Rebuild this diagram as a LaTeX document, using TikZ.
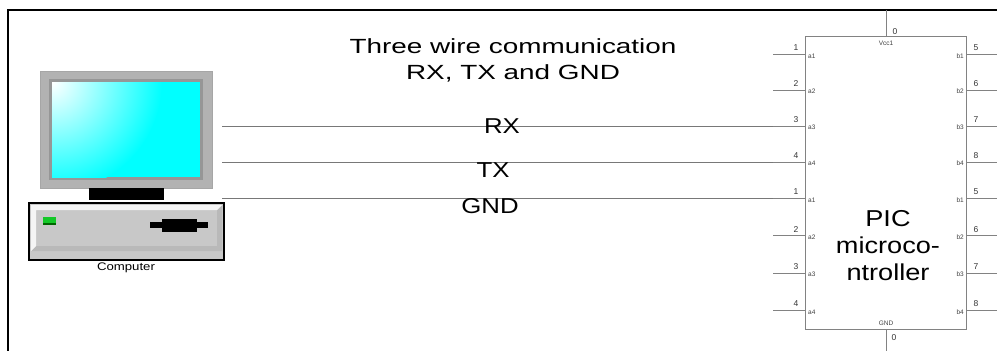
\documentclass[tikz,border=0pt]{standalone}
\usepackage{fontspec}
\setmainfont{Liberation Sans}
\usepackage{graphicx}
\newcommand{\widetext}[2]{\scalebox{#1}[1]{#2}}
\definecolor{wiregray}{RGB}{120,120,120}
\definecolor{pingray}{RGB}{130,130,130}
\definecolor{caseg}{RGB}{200,200,200}
\definecolor{frameg}{RGB}{178,178,178}
\definecolor{bezelg}{RGB}{150,150,150}
\definecolor{ledgreen}{RGB}{20,200,40}
\definecolor{screen}{RGB}{0,255,255}
\begin{document}
\begin{tikzpicture}[x=1pt,y=-1pt,
  wire/.style={draw=wiregray, line width=0.8pt},
  pin/.style={draw=pingray, line width=0.8pt},
  chipbox/.style={draw=pingray, line width=0.8pt, rectangle, minimum width=161pt, minimum height=292.6pt, inner sep=0pt},
  pinnum/.style={font=\fontsize{8.5}{9}\selectfont, text=black!80, inner sep=0pt},
  pinlbl/.style={font=\fontsize{6.5}{7}\selectfont, text=black!75, inner sep=0pt},
  sig/.style={font=\fontsize{21.5}{24}\selectfont, inner sep=0pt},
  every node/.style={inner sep=0pt}]
\useasboundingbox (0,0) rectangle (997,351);

% outer frame
\draw[line width=2pt, line cap=rect] (8,351) -- (8,10) -- (997,10);

% ---------- computer ----------
% monitor
\fill[frameg] (40,71) rectangle (212,188);
\draw[gray!70, line width=0.6pt] (40,71) rectangle (212,188);
\fill[bezelg] (49,79) rectangle (203,180);
\fill[screen] (52,82) rectangle (200,177);
\begin{scope}
  \clip (52,82) rectangle (200,177);
  \shade[inner color=white, outer color=screen] (52,82) circle (110);
\end{scope}
% stand
\fill[black] (89,188) rectangle (164,200);
% base unit
\fill[caseg] (29,203) rectangle (224,260);
\fill[gray!55] (31,251) -- (222,251) -- (222,205) -- (217,210) -- (217,246) -- (36,246) -- cycle;
\fill[white!92!gray] (31,205) -- (222,205) -- (217,210) -- (36,210) -- (36,246) -- (31,251) -- cycle;
\draw[black, line width=2pt] (29,203) rectangle (224,260);
\fill[ledgreen] (43,217) rectangle (56,225);
\fill[green!40!black] (43,223) rectangle (56,225);
\fill[black] (150,222) rectangle (208,228);
\fill[black] (162,219) rectangle (197,232);
\node (comp) at (126,268) {\widetext{1.2}{\fontsize{11}{12}\selectfont Computer}};

% ---------- title ----------
\node[align=center] (title) at (513,61)
  {\widetext{1.36}{\fontsize{20.5}{27}\selectfont\begin{tabular}{@{}c@{}}Three wire communication\\[-0.5pt] RX, TX and GND\end{tabular}}};

% ---------- microcontroller ----------
\node[chipbox] (chip) at (886.2,183) {};
\node[align=center] (pic) at (888,248)
  {\widetext{1.18}{\fontsize{23}{27}\selectfont\begin{tabular}{@{}c@{}}PIC\\ microco-\\ ntroller\end{tabular}}};

% supply pins
\coordinate (vccT) at (886,10);
\coordinate (vccB) at (886,36.7);
\draw[pin] (vccT) -- (vccB);
\node[pinnum, anchor=base] (vccn) at (895,34) {0};
\node[pinlbl, anchor=base] (vccl) at (886,45) {Vcc1};
\coordinate (gndT) at (886,329.3);
\coordinate (gndB) at (886,351);
\draw[pin] (gndT) -- (gndB);
\node[pinnum, anchor=base] (gndn) at (894,340) {0};
\node[pinlbl, anchor=base] (gndl) at (886,325) {GND};

% side pins
\foreach \i/\y/\n/\m in {1/54.3/1/5, 2/90/2/6, 3/126/3/7, 4/162/4/8,
                         5/198.3/1/5, 6/235.7/2/6, 7/273/3/7, 8/310.3/4/8}{
  \coordinate (L\i) at (773,\y);
  \coordinate (Li\i) at (805.7,\y);
  \draw[pin] (L\i) -- (Li\i);
  \node[pinnum, anchor=base] (ln\i) at (796,\y-3.5) {\n};
  \node[pinlbl, anchor=west] (ll\i) at (808,\y+1.5) {a\n};
  \coordinate (R\i) at (997,\y);
  \coordinate (Ri\i) at (966.7,\y);
  \draw[pin] (Ri\i) -- (R\i);
  \node[pinnum, anchor=base] (rn\i) at (976,\y-3.5) {\m};
  \node[pinlbl, anchor=east] (rl\i) at (964,\y+1.5) {b\n};
}

% ---------- wires ----------
\coordinate (wRX) at (222,126);
\coordinate (wTX) at (222,162);
\coordinate (wGND) at (222,198.3);
\draw[wire] (wRX) -- (L3);
\draw[wire] (wTX) -- (L4);
\draw[wire] (wGND) -- (L5);
\node[sig] (lRX) at (502,126) {\widetext{1.2}{RX}};
\node[sig] (lTX) at (493,170) {\widetext{1.2}{TX}};
\node[sig] (lGND) at (490,206) {\widetext{1.2}{GND}};
\end{tikzpicture}
\end{document}
